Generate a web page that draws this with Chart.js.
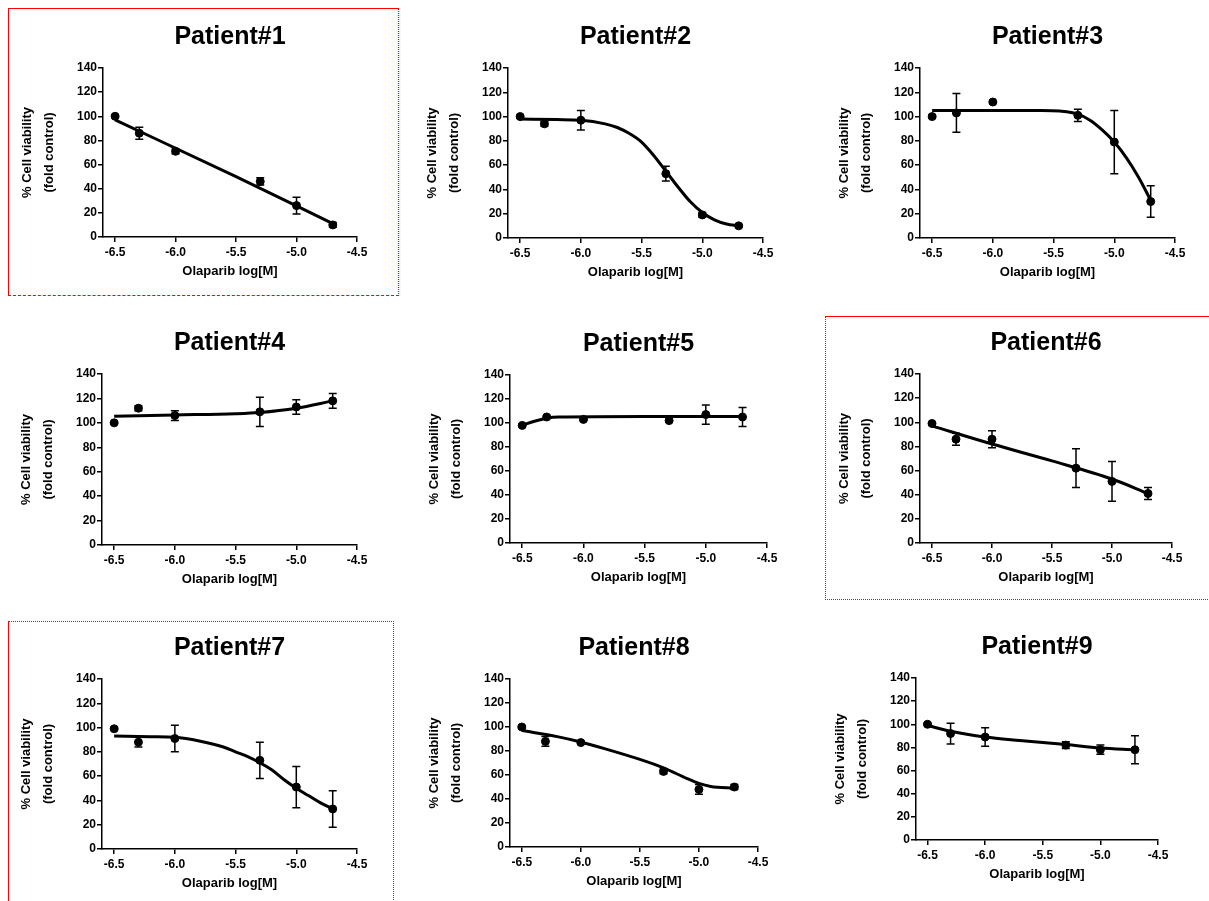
<!DOCTYPE html>
<html>
<head>
<meta charset="utf-8">
<script src="https://cdn.jsdelivr.net/npm/chart.js@4.4.1/dist/chart.umd.min.js"></script>
<style>
  body { margin: 0; background: #fff; width: 1209px; height: 901px; overflow: hidden; position: relative; }
  .panel { position: absolute; }
  .frame { position: absolute; border: 0 none #ff0000; pointer-events: none; }
</style>
</head>
<body>
<script>
// doses (log M) and tick labels
const doses = [-6.5, -6.3, -6.0, -5.3, -5.0, -4.7];
const xTicks = [-6.5, -6.0, -5.5, -5.0, -4.5];
const xTickLabels = ['-6.5', '-6.0', '-5.5', '-5.0', '-4.5'];
const yTicks = [0, 20, 40, 60, 80, 100, 120, 140];

const patients = ['Patient#1', 'Patient#2', 'Patient#3', 'Patient#4', 'Patient#5',
                  'Patient#6', 'Patient#7', 'Patient#8', 'Patient#9'];

// mean viability (% of control) and error per dose
const viability1 = [100, 86, 71, 46, 26, 10];
const error1     = [1, 5, 2, 3, 7, 2];
const viability2 = [100, 94, 97, 53, 19, 10];
const error2     = [1, 2, 8, 6, 2, 1];
const viability3 = [100, 103, 112, 101, 79, 30];
const error3     = [1, 16, 1, 5, 26, 13];
const viability4 = [100, 112, 106, 109, 113, 118];
const error4     = [1, 2, 4, 12, 6, 6];
const viability5 = [98, 105, 103, 102, 107, 105];
const error5     = [1, 1, 1, 1, 8, 8];
const viability6 = [99, 86, 86, 62, 51, 41];
const error6     = [1, 5, 7, 16, 16.5, 5];
const viability7 = [99, 88, 91, 73, 51, 33];
const error7     = [1, 4, 11, 15, 17, 15];
const viability8 = [100, 88, 87, 63, 48, 50];
const error8     = [1, 4, 1, 2, 4, 2];
const viability9 = [100, 92, 89, 82, 78, 78];
const error9     = [1, 9, 8, 3, 4, 12];

// fitted curves
const fitX1 = [-6.5, -5.5, -4.7];
const fitY1 = [97, 50, 11];
const fitX2 = [-6.5, -6.2, -6.0, -5.8, -5.7, -5.6, -5.5, -5.4, -5.3, -5.2, -5.1, -5.0, -4.9, -4.8, -4.7];
const fitY2 = [98, 97.5, 97, 94, 91, 86, 79, 68, 55, 42, 30, 21, 15, 11.5, 10];
const fitX3 = [-6.5, -5.6, -5.45, -5.3, -5.2, -5.1, -5.0, -4.9, -4.8, -4.7];
const fitY3 = [105, 105, 104.5, 102, 97, 89, 79, 66, 50, 31];
const fitX4 = [-6.5, -6.0, -5.5, -5.3, -5.0, -4.7];
const fitY4 = [105.5, 106.5, 107.5, 108.5, 112, 118];
const fitX5 = [-6.5, -6.4, -6.3, -6.2, -5.5, -4.7];
const fitY5 = [98, 101.5, 104, 105, 105.5, 105.5];
const fitX6 = [-6.5, -6.0, -5.5, -5.0, -4.7];
const fitY6 = [97, 82, 68, 53, 41];
const fitX7 = [-6.5, -6.2, -6.0, -5.8, -5.6, -5.5, -5.4, -5.3, -5.2, -5.1, -5.0, -4.9, -4.8, -4.7];
const fitY7 = [93, 92.5, 92, 89, 84, 80, 76, 71, 65, 57, 50, 44, 38, 33];
const fitX8 = [-6.5, -6.2, -6.0, -5.8, -5.5, -5.3, -5.1, -5.0, -4.9, -4.7];
const fitY8 = [97, 92, 87.5, 82, 73, 66, 57, 53, 50.5, 49];
const fitX9 = [-6.5, -6.3, -6.0, -5.7, -5.3, -5.0, -4.7];
const fitY9 = [99, 94, 89, 86, 82.5, 79.5, 78];

const allViability = [viability1, viability2, viability3, viability4, viability5, viability6, viability7, viability8, viability9];
const allErrors = [error1, error2, error3, error4, error5, error6, error7, error8, error9];
const allFitX = [fitX1, fitX2, fitX3, fitX4, fitX5, fitX6, fitX7, fitX8, fitX9];
const allFitY = [fitY1, fitY2, fitY3, fitY4, fitY5, fitY6, fitY7, fitY8, fitY9];

// plot area of every panel on the page: left, top, right, bottom
const plotAreas = [
  [103, 68, 357, 237], [508, 68, 763, 238], [920, 68, 1175, 238],
  [102, 374, 357, 545], [510, 375, 767, 543], [920, 374, 1172, 543],
  [102, 679, 357, 849], [510, 679, 758, 847], [916, 678, 1158, 840]
];

const AXIS_W = 103;  // y axis box width
const TOP_H = 68;    // title box height
const AXIS_H = 42;   // x axis box height
const PAD_R = 30;
const FONT = "'Liberation Sans', Arial, sans-serif";

// vertical error bars with caps
const errorBars = {
  id: 'errorBars',
  afterDatasetsDraw(chart) {
    const ds = chart.data.datasets[1];
    const {ctx, scales: {x, y}} = chart;
    ctx.save();
    ctx.strokeStyle = '#000';
    ctx.lineWidth = 1.5;
    ds.data.forEach((p, k) => {
      const e = ds.errors[k];
      const px = x.getPixelForValue(p.x);
      const top = y.getPixelForValue(p.y + e);
      const bot = y.getPixelForValue(p.y - e);
      ctx.beginPath();
      ctx.moveTo(px, top); ctx.lineTo(px, bot);
      ctx.moveTo(px - 4, top); ctx.lineTo(px + 4, top);
      ctx.moveTo(px - 4, bot); ctx.lineTo(px + 4, bot);
      ctx.stroke();
    });
    ctx.restore();
  }
};

patients.forEach((name, i) => {
  const [l, t, r, b] = plotAreas[i];
  const w = AXIS_W + (r - l) + PAD_R;
  const h = TOP_H + (b - t) + AXIS_H;

  const wrap = document.createElement('div');
  wrap.className = 'panel';
  wrap.style.left = (l - AXIS_W) + 'px';
  wrap.style.top = (t - TOP_H) + 'px';
  const canvas = document.createElement('canvas');
  canvas.width = w;
  canvas.height = h;
  wrap.appendChild(canvas);
  document.body.appendChild(wrap);

  new Chart(canvas, {
    type: 'line',
    data: {
      datasets: [{
        data: allFitX[i].map((x, k) => ({x: x, y: allFitY[i][k]})),
        borderColor: '#000',
        borderWidth: 3,
        pointRadius: 0,
        cubicInterpolationMode: 'monotone',
        fill: false
      }, {
        data: doses.map((x, k) => ({x: x, y: allViability[i][k]})),
        errors: allErrors[i],
        showLine: false,
        pointRadius: 4,
        pointBackgroundColor: '#000',
        pointBorderColor: '#000'
      }]
    },
    options: {
      responsive: false,
      animation: false,
      events: [],
      layout: { padding: { left: 0, right: PAD_R, top: 0, bottom: 0 } },
      plugins: {
        legend: { display: false },
        tooltip: { enabled: false },
        title: {
          display: true,
          text: name,
          fullSize: false,
          color: '#000',
          font: { family: FONT, size: 25, weight: 'bold', lineHeight: 1.2 },
          padding: { top: 22, bottom: TOP_H - 22 - 30 }
        }
      },
      scales: {
        x: {
          type: 'linear',
          min: -6.6,
          max: -4.5,
          afterBuildTicks: s => { s.ticks = xTicks.map(v => ({value: v})); },
          afterFit: s => { s.height = AXIS_H; },
          ticks: {
            callback: (v, idx) => xTickLabels[idx],
            color: '#000',
            font: { family: FONT, size: 12, weight: 'bold' },
            padding: 3,
            autoSkip: false,
            maxRotation: 0
          },
          grid: { drawOnChartArea: false, color: '#000', lineWidth: 1.5, tickLength: 5 },
          border: { color: '#000', width: 1.5 },
          title: {
            display: true,
            text: 'Olaparib log[M]',
            color: '#000',
            font: { family: FONT, size: 13, weight: 'bold', lineHeight: 1.2 },
            padding: { top: 0, bottom: 0 }
          }
        },
        y: {
          min: 0,
          max: 140,
          afterBuildTicks: s => { s.ticks = yTicks.map(v => ({value: v})); },
          afterFit: s => { s.width = AXIS_W; },
          ticks: {
            color: '#000',
            font: { family: FONT, size: 12, weight: 'bold' },
            padding: 1
          },
          grid: { drawOnChartArea: false, color: '#000', lineWidth: 1.5, tickLength: 5 },
          border: { color: '#000', width: 1.5 },
          title: {
            display: true,
            text: ['% Cell viability', '(fold control)'],
            color: '#000',
            font: { family: FONT, size: 13, weight: 'bold', lineHeight: 1.7 },
            padding: { top: 16, bottom: 0 }
          }
        }
      }
    },
    plugins: [errorBars]
  });
});

// red frames around panels 1, 6 and 7
const frames = [
  { left: 8, top: 8, width: 389, height: 286, styles: ['solid', 'dotted', 'dashed', 'solid'] },
  { left: 825, top: 316, width: 400, height: 282, styles: ['solid', 'none', 'dotted', 'dotted'] },
  { left: 8, top: 621, width: 384, height: 300, styles: ['dotted', 'dotted', 'none', 'solid'] }
];
frames.forEach(f => {
  const d = document.createElement('div');
  d.className = 'frame';
  d.style.left = f.left + 'px';
  d.style.top = f.top + 'px';
  d.style.width = f.width + 'px';
  d.style.height = f.height + 'px';
  d.style.borderWidth = '1px';
  d.style.borderStyle = f.styles.join(' ');
  document.body.appendChild(d);
});
</script>
</body>
</html>
